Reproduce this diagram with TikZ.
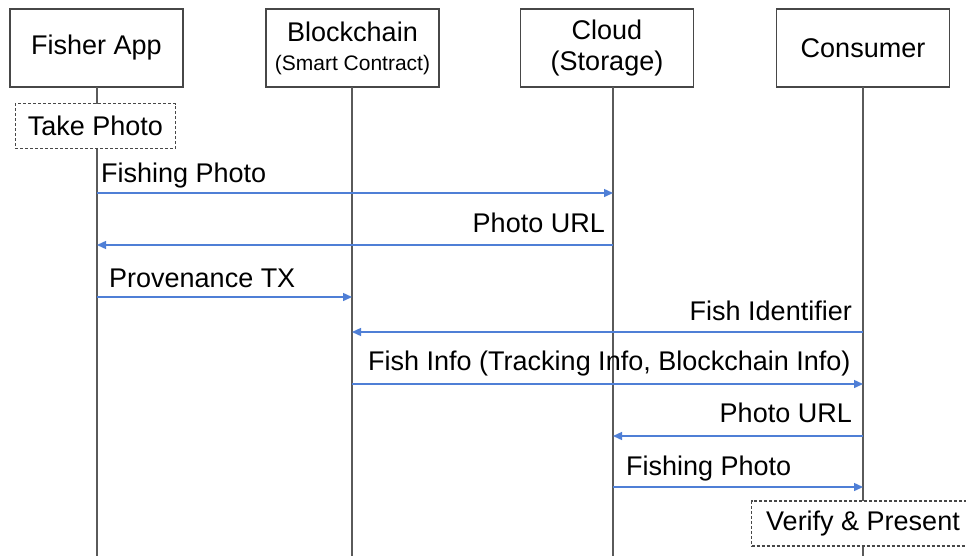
\documentclass[tikz,border=0pt]{standalone}
\usepackage{fontspec}
\setmainfont{Liberation Sans}
\usetikzlibrary{arrows.meta}
\definecolor{msgblue}{HTML}{4F7FD6}
\definecolor{lifegray}{HTML}{5A5A5A}
\definecolor{boxgray}{HTML}{474747}
\tikzset{
  txt/.style={font=\fontsize{27}{31}\selectfont},
  actor/.style={draw=boxgray, line width=1.6pt, fill=white, minimum width=173pt,
    minimum height=78pt, inner sep=0pt, align=center, txt},
  activity/.style={draw=boxgray, line width=1.3pt, dash pattern=on 3pt off 2pt,
    fill=white, inner xsep=12.5pt, minimum height=45pt, inner ysep=0pt, txt},
  lifeline/.style={draw=lifegray, line width=1.8pt},
  msg/.style={draw=msgblue, line width=1.4pt, -{Triangle[length=9pt,width=8pt]}},
  msglabel/.style={inner sep=0pt, txt}
}
\begin{document}
\begin{tikzpicture}[x=1pt, y=-1pt]
  \useasboundingbox (0,0) rectangle (966,555);
  \clip (0,0) rectangle (966,555);
  \fill[white] (0,0) rectangle (966,555);

  % participants
  \node[actor] (fisher) at (96.5,48) {Fisher App};
  \node[actor] (chain) at (352.5,48) {Blockchain\\[-2pt]{\fontsize{21}{24}\selectfont (Smart Contract)}};
  \node[actor] (cloud) at (607,48) {Cloud\\[0pt](Storage)};
  \node[actor] (consumer) at (863,48) {Consumer};

  % lifelines
  \coordinate (fisherTop) at (97,87);   \coordinate (fisherEnd) at (97,556);
  \coordinate (chainTop) at (352,87);   \coordinate (chainEnd) at (352,556);
  \coordinate (cloudTop) at (613,87);   \coordinate (cloudEnd) at (613,556);
  \coordinate (consTop) at (863,87);    \coordinate (consEnd) at (863,556);
  \draw[lifeline] (fisherTop) -- (fisherEnd);
  \draw[lifeline] (chainTop) -- (chainEnd);
  \draw[lifeline] (cloudTop) -- (cloudEnd);
  \draw[lifeline] (consTop) -- (consEnd);

  % local activities
  \node[activity] (take) at (95.5,126) {Take Photo};
  \node[activity, inner xsep=14.5pt] (verify) at (863,523.5) {Verify \& Present};

  % message end points
  \coordinate (m1a) at (97,193);  \coordinate (m1b) at (613,193);
  \coordinate (m2a) at (613,245); \coordinate (m2b) at (97,245);
  \coordinate (m3a) at (97,297);  \coordinate (m3b) at (352,297);
  \coordinate (m4a) at (863,332); \coordinate (m4b) at (352,332);
  \coordinate (m5a) at (352,384); \coordinate (m5b) at (863,384);
  \coordinate (m6a) at (863,436); \coordinate (m6b) at (613,436);
  \coordinate (m7a) at (613,487); \coordinate (m7b) at (863,487);

  % messages
  \draw[msg] (m1a) -- (m1b);
  \draw[msg] (m2a) -- (m2b);
  \draw[msg] (m3a) -- (m3b);
  \draw[msg] (m4a) -- (m4b);
  \draw[msg] (m5a) -- (m5b);
  \draw[msg] (m6a) -- (m6b);
  \draw[msg] (m7a) -- (m7b);

  % message labels
  \node[msglabel, anchor=base west] (l1) at (101,182) {Fishing Photo};
  \node[msglabel, anchor=base east] (l2) at (605,232) {Photo URL};
  \node[msglabel, anchor=base west] (l3) at (109,287) {Provenance TX};
  \node[msglabel, anchor=base east] (l4) at (852,320) {Fish Identifier};
  \node[msglabel, anchor=base west] (l5) at (368,370) {Fish Info (Tracking Info, Blockchain Info)};
  \node[msglabel, anchor=base east] (l6) at (852,422) {Photo URL};
  \node[msglabel, anchor=base west] (l7) at (626,475) {Fishing Photo};
\end{tikzpicture}
\end{document}
